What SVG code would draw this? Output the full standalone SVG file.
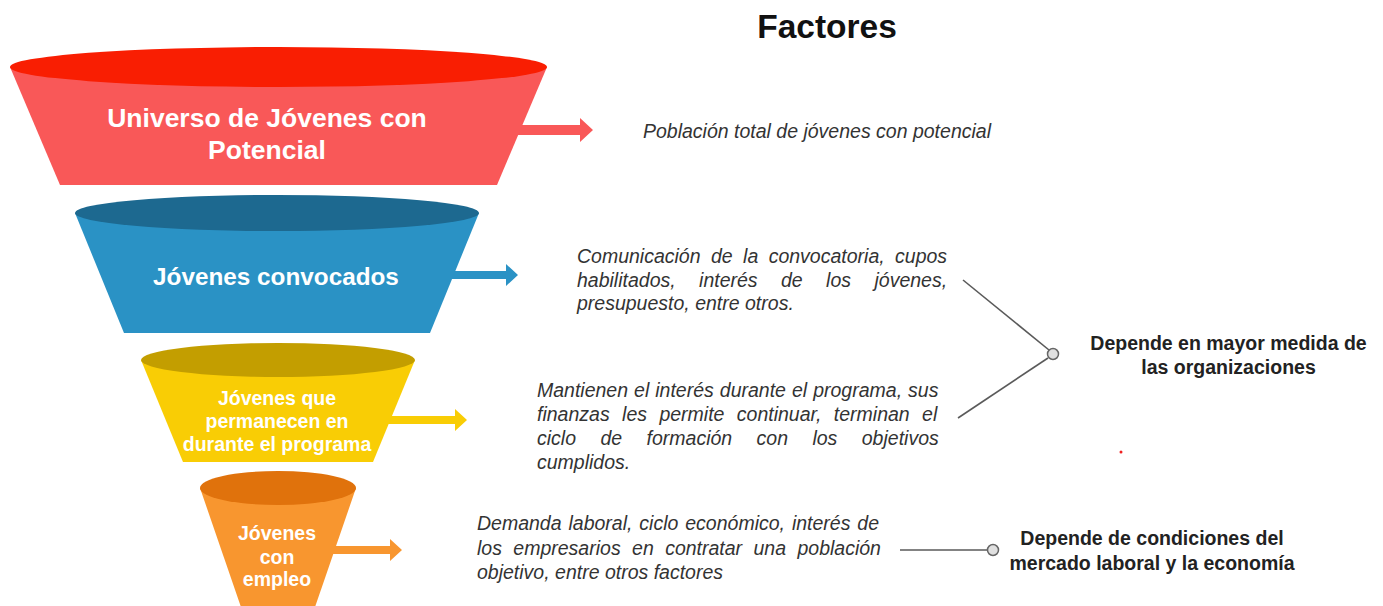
<svg xmlns="http://www.w3.org/2000/svg" width="1383" height="606" viewBox="0 0 1383 606">
<style>
.ft{font-family:"Liberation Sans",Arial,sans-serif;font-weight:bold;fill:#fff;text-anchor:middle}
.it{font-family:"Liberation Sans",Arial,sans-serif;font-style:italic;font-size:19.5px;fill:#333}
.lb{font-family:"Liberation Sans",Arial,sans-serif;font-weight:bold;font-size:19.5px;fill:#222;text-anchor:middle}
.title{font-family:"Liberation Sans",Arial,sans-serif;font-weight:bold;font-size:33.5px;fill:#111;text-anchor:middle}
.conn{stroke:#5a5a5a;stroke-width:1.6;fill:none}
.dot{fill:#e0e0e0;stroke:#666;stroke-width:1.5}
</style>
<rect width="1383" height="606" fill="#fff"/>
<text class="title" x="827" y="38">Factores</text>

<g id="funnel1">
<path d="M515 125 H580 V118 L593 130 L580 142 V135 H515 Z" fill="#F95858"/>
<path d="M10 67 H547 L497 185 H60 Z" fill="#F95858"/>
<ellipse cx="278.5" cy="67" rx="268.5" ry="20" fill="#F91E02"/>
<text class="ft" x="267" y="127" font-size="26.5">Universo de Jóvenes con</text>
<text class="ft" x="267" y="159" font-size="26.5">Potencial</text>
</g>

<g id="funnel2">
<path d="M448 271 H506 V264 L518 275 L506 286 V279 H448 Z" fill="#2A92C5"/>
<path d="M75 213 H479 L430 333 H124 Z" fill="#2A92C5"/>
<ellipse cx="277" cy="213" rx="202" ry="18" fill="#1D6990"/>
<text class="ft" x="276" y="285" font-size="24.3">Jóvenes convocados</text>
</g>

<g id="funnel3">
<path d="M380 416 H455 V409 L467 420 L455 431 V424 H380 Z" fill="#F9CD05"/>
<path d="M141 360 H415 L373 462 H183 Z" fill="#F9CD05"/>
<ellipse cx="278" cy="360" rx="137" ry="17" fill="#C39E00"/>
<text class="ft" x="277" y="405" font-size="19.5">Jóvenes que</text>
<text class="ft" x="277" y="428" font-size="19.5">permanecen en</text>
<text class="ft" x="277" y="451" font-size="19.5">durante el programa</text>
</g>

<g id="funnel4">
<path d="M325 546 H390 V539 L402 550 L390 561 V554 H325 Z" fill="#F8962F"/>
<path d="M200 488 H356 L314 610 H242 Z" fill="#F8962F"/>
<ellipse cx="278" cy="488" rx="78" ry="17" fill="#E0720C"/>
<text class="ft" x="277" y="540" font-size="19.5">Jóvenes</text>
<text class="ft" x="277" y="564" font-size="19.5">con</text>
<text class="ft" x="277" y="586" font-size="19.5">empleo</text>
</g>

<g id="desc1">
<text class="it" x="643" y="138">Población total de jóvenes con potencial</text>
</g>

<g id="desc2">
<text class="it" x="577" y="263" style="word-spacing:5px">Comunicación de la convocatoria, cupos</text>
<text class="it" x="577" y="287" style="word-spacing:18px">habilitados, interés de los jóvenes,</text>
<text class="it" x="577" y="310">presupuesto, entre otros.</text>
</g>

<g id="desc3">
<text class="it" x="537" y="397" style="word-spacing:0.6px">Mantienen el interés durante el programa, sus</text>
<text class="it" x="537" y="421" style="word-spacing:7px">finanzas les permite continuar, terminan el</text>
<text class="it" x="537" y="445" style="word-spacing:19px">ciclo de formación con los objetivos</text>
<text class="it" x="537" y="469">cumplidos.</text>
</g>

<g id="desc4">
<text class="it" x="477" y="530" style="word-spacing:1.5px">Demanda laboral, ciclo económico, interés de</text>
<text class="it" x="477" y="555" style="word-spacing:6px">los empresarios en contratar una población</text>
<text class="it" x="477" y="579">objetivo, entre otros factores</text>
</g>

<g id="label-org">
<text class="lb" x="1228.5" y="350">Depende en mayor medida de</text>
<text class="lb" x="1228.5" y="374">las organizaciones</text>
</g>

<g id="label-mercado">
<text class="lb" x="1152" y="545">Depende de condiciones del</text>
<text class="lb" x="1152" y="570">mercado laboral y la economía</text>
</g>

<g id="connectors">
<line class="conn" x1="963" y1="280" x2="1049" y2="350"/>
<line class="conn" x1="958" y1="418" x2="1048" y2="358"/>
<circle class="dot" cx="1053" cy="354" r="5.5"/>
<line class="conn" x1="900" y1="550" x2="987" y2="550"/>
<circle class="dot" cx="993" cy="550" r="5.5"/>
</g>

<circle cx="1121" cy="452" r="1.5" fill="#f02020"/>
</svg>
